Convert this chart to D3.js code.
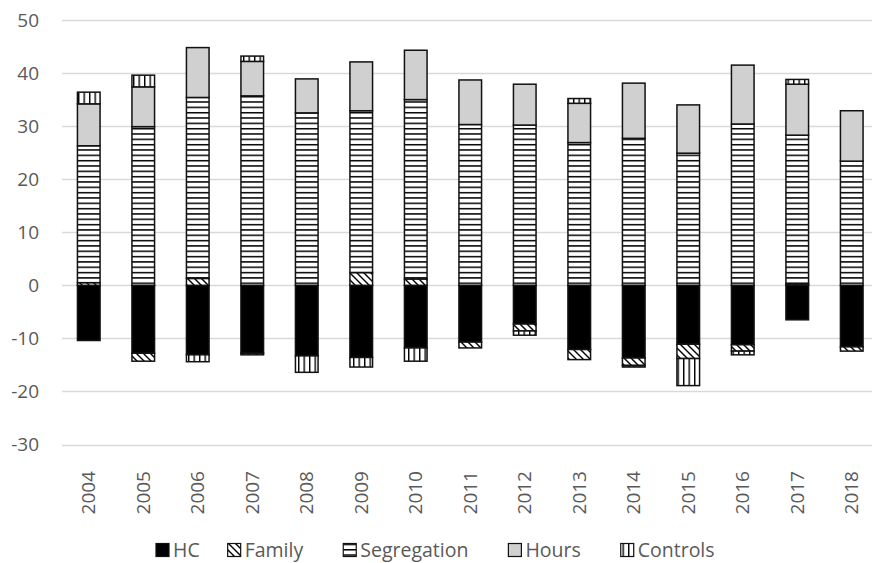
<!DOCTYPE html>
<html>
<head>
<meta charset="utf-8">
<script src="https://cdn.jsdelivr.net/npm/d3@7"></script>
<style>
  html, body { margin: 0; padding: 0; background: #fff; }
  svg { display: block; font-family: "Open Sans", sans-serif; }
</style>
</head>
<body>
<svg id="chart" width="872" height="563"></svg>
<script>
// Decomposition by year: stacked contributions (positive up, negative down)
const years = ["2004","2005","2006","2007","2008","2009","2010","2011","2012","2013","2014","2015","2016","2017","2018"];
const seriesNames = ["HC","Family","Segregation","Hours","Controls"];
const hc          = [-10.4,-12.8,-13.1,-12.8,-13.3,-13.6,-11.8,-10.7,-7.3,-12.1,-13.7,-11.1,-11.2,-6.5,-11.6];
const family      = [0.5,-1.5,1.3,-0.3,0,2.4,1.2,-1.1,-1.3,-1.9,-1.4,-2.7,-1.2,0.3,-0.8];
const segregation = [25.8,29.9,34.1,35.7,32.5,30.5,33.8,30.3,30.2,26.9,27.7,24.9,30.4,28.0,23.4];
const hours       = [7.9,7.5,9.4,6.5,6.4,9.2,9.3,8.4,7.7,7.4,10.4,9.1,11.1,9.6,9.5];
const controls    = [2.2,2.2,-1.3,1.0,-3.1,-1.8,-2.5,0,-0.8,0.9,-0.3,-5.1,-0.7,0.9,0];
const yTicks = [-30,-20,-10,0,10,20,30,40,50];

const rows = years.map((yr, i) => ({
  year: yr,
  HC: hc[i], Family: family[i], Segregation: segregation[i], Hours: hours[i], Controls: controls[i]
}));

const svg = d3.select("#chart");
const textColor = "#595959";

const x = d3.scaleBand().domain(years).range([61.5, 879])
  .paddingInner(0.585).paddingOuter(0.2925);
const y = d3.scaleLinear().domain([-30, 50]).range([444.5, 20]);

// fill patterns
const defs = svg.append("defs");
const pFam = defs.append("pattern").attr("id", "pat-family")
  .attr("patternUnits", "userSpaceOnUse").attr("width", 7).attr("height", 7);
pFam.append("rect").attr("width", 7).attr("height", 7).attr("fill", "#fff");
pFam.append("path").attr("d", "M-2,-2L9,9M-2,5L2,9M5,-2L9,2")
  .attr("stroke", "#000").attr("stroke-width", 1.4);

const pSeg = defs.append("pattern").attr("id", "pat-seg")
  .attr("patternUnits", "userSpaceOnUse").attr("width", 8).attr("height", 5.33);
pSeg.append("rect").attr("width", 8).attr("height", 5.33).attr("fill", "#fff");
pSeg.append("rect").attr("y", 0).attr("width", 8).attr("height", 1.5).attr("fill", "#000");

const pCtl = defs.append("pattern").attr("id", "pat-ctl")
  .attr("patternUnits", "userSpaceOnUse").attr("width", 5.5).attr("height", 8).attr("x", 1);
pCtl.append("rect").attr("width", 5.5).attr("height", 8).attr("fill", "#fff");
pCtl.append("rect").attr("x", 0).attr("width", 1.4).attr("height", 8).attr("fill", "#000");

const fills = {
  HC: "#000000",
  Family: "url(#pat-family)",
  Segregation: "url(#pat-seg)",
  Hours: "#cfd0cf",
  Controls: "url(#pat-ctl)"
};

// gridlines
svg.append("g").selectAll("line").data(yTicks).join("line")
  .attr("x1", 62).attr("x2", 872)
  .attr("y1", d => Math.round(y(d)) + 0.5).attr("y2", d => Math.round(y(d)) + 0.5)
  .attr("stroke", "#d9d9d9").attr("stroke-width", 1.3);

// y tick labels
svg.append("g").selectAll("text").data(yTicks).join("text")
  .attr("x", 39).attr("y", d => y(d)).attr("dy", "0.35em")
  .attr("text-anchor", "end").attr("fill", textColor).attr("font-size", 19)
  .text(d => d);

// stacked bars
const stacked = d3.stack().keys(seriesNames).offset(d3.stackOffsetDiverging)(rows);
svg.append("g").selectAll("g").data(stacked).join("g")
  .attr("fill", s => fills[s.key])
  .selectAll("rect").data(s => s.filter(d => d[1] !== d[0])).join("rect")
  .attr("x", d => x(d.data.year))
  .attr("width", x.bandwidth())
  .attr("y", d => y(d[1]))
  .attr("height", d => y(d[0]) - y(d[1]))
  .attr("stroke", "#111").attr("stroke-width", 1.5);

// x labels (rotated)
svg.append("g").selectAll("text").data(years).join("text")
  .attr("transform", d => `translate(${x(d) + x.bandwidth() / 2},471) rotate(-90)`)
  .attr("dy", "0.35em").attr("text-anchor", "end")
  .attr("fill", textColor).attr("font-size", 19)
  .text(d => d);

// legend
const legend = svg.append("g");
const legendGaps = [28, 40, 40, 40];
let lx = 156;
const ly = 550;
seriesNames.forEach((name, i) => {
  const item = legend.append("g");
  item.append("rect").attr("x", lx).attr("y", ly - 6.5).attr("width", 13).attr("height", 13)
    .attr("fill", fills[name]).attr("stroke", "#111").attr("stroke-width", 1.2);
  const t = item.append("text").attr("x", lx + 17).attr("y", ly).attr("dy", "0.35em")
    .attr("fill", textColor).attr("font-size", 19.5).text(name);
  lx += 17 + t.node().getComputedTextLength() + (legendGaps[i] || 0);
});
</script>
</body>
</html>
